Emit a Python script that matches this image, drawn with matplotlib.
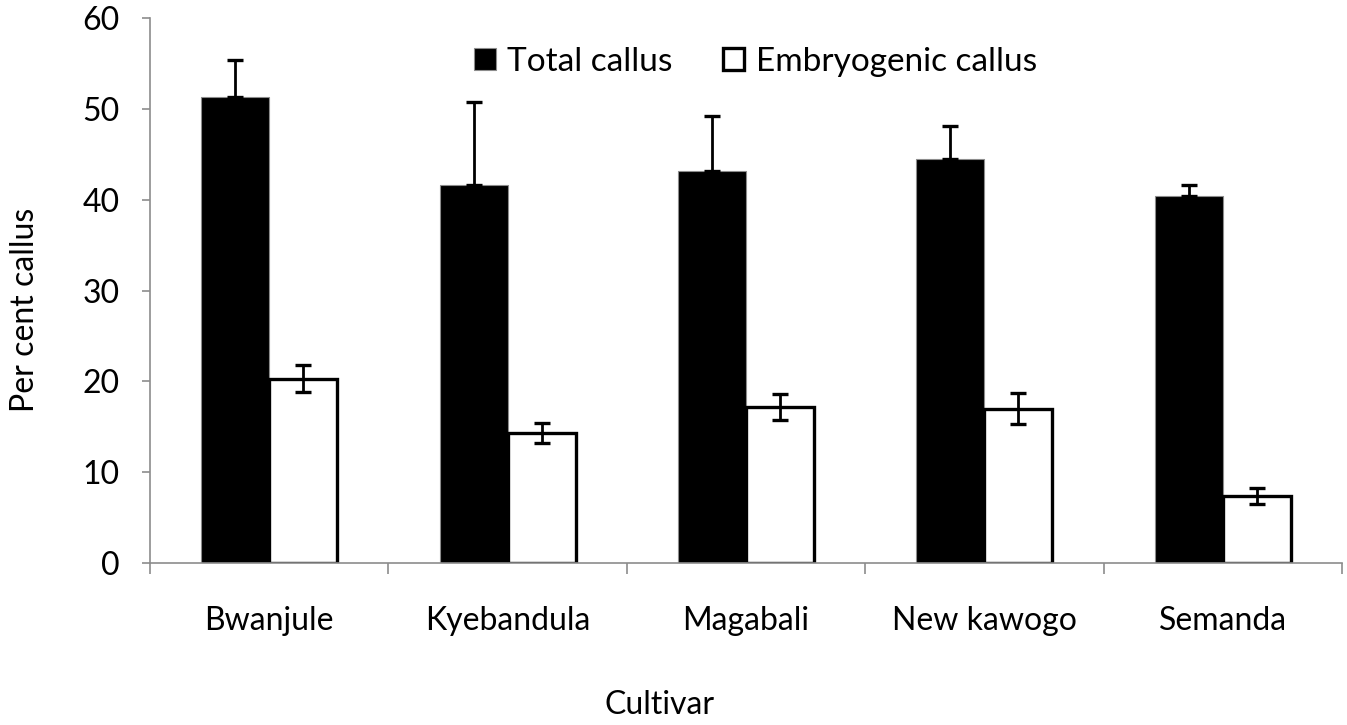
import matplotlib
matplotlib.use("Agg")
import matplotlib.pyplot as plt
import numpy as np

plt.rcParams['font.family'] = ['Lato', 'DejaVu Sans']

cultivars = ["Bwanjule", "Kyebandula", "Magabali", "New kawogo", "Semanda"]
total_callus = [51.3, 41.7, 43.2, 44.5, 40.4]
total_err = [4.1, 9.1, 6.0, 3.7, 1.2]
embryo_callus = [20.3, 14.3, 17.2, 17.0, 7.4]
embryo_err = [1.5, 1.1, 1.4, 1.7, 0.9]

W, H = 1347, 725
fig = plt.figure(figsize=(W / 100, H / 100), dpi=100)
ax = fig.add_axes([150 / W, 1 - 563 / H, (1342 - 150) / W, (563 - 18.4) / H])

x = np.arange(len(cultivars)) + 0.5
bw = 0.285
grey = "#8c8c8c"
fs = 23

ax.bar(x - bw / 2, total_callus, bw, color="black", edgecolor=grey,
       linewidth=0.8, label="Total callus", zorder=2)
ax.bar(x + bw / 2, embryo_callus, bw, color="white", edgecolor="black",
       linewidth=2.4, label="Embryogenic callus", zorder=2)
ax.errorbar(x - bw / 2, total_callus, yerr=[np.zeros(len(total_err)), total_err],
            fmt="none", ecolor="black", elinewidth=2.0, capsize=6, capthick=2.4, zorder=3)
ax.errorbar(x + bw / 2, embryo_callus, yerr=embryo_err,
            fmt="none", ecolor="black", elinewidth=2.0, capsize=6, capthick=2.4, zorder=3)

ax.set_xlim(0, len(cultivars))
ax.set_ylim(0, 60)
ax.set_yticks(np.arange(0, 61, 10))
ax.set_xticks(np.arange(0, len(cultivars) + 1))
ax.set_xticklabels([])
ax.set_xticks(x, minor=True)
ax.set_xticklabels(cultivars, minor=True, fontsize=fs)
ax.tick_params(axis="x", which="major", direction="out", length=8, width=1.2, color=grey)
ax.tick_params(axis="x", which="minor", length=0, pad=31)
ax.tick_params(axis="y", direction="out", length=6, width=1.2, color=grey, pad=16, labelsize=fs)

for s in ["top", "right"]:
    ax.spines[s].set_visible(False)
for s in ["left", "bottom"]:
    ax.spines[s].set_color(grey)
    ax.spines[s].set_linewidth(1.2)

leg = ax.legend(loc="center", bbox_to_anchor=(0.508, 0.92), ncol=2, frameon=False,
                fontsize=24, handlelength=0.65, handleheight=0.65, handletextpad=0.35,
                columnspacing=1.5)

fig.text(25 / W, 1 - 310 / H, "Per cent callus", rotation=90, ha="center", va="center", fontsize=fs)
fig.text(660 / W, 1 - 705 / H, "Cultivar", ha="center", va="center", fontsize=fs)

fig.savefig("out.png", dpi=100)
